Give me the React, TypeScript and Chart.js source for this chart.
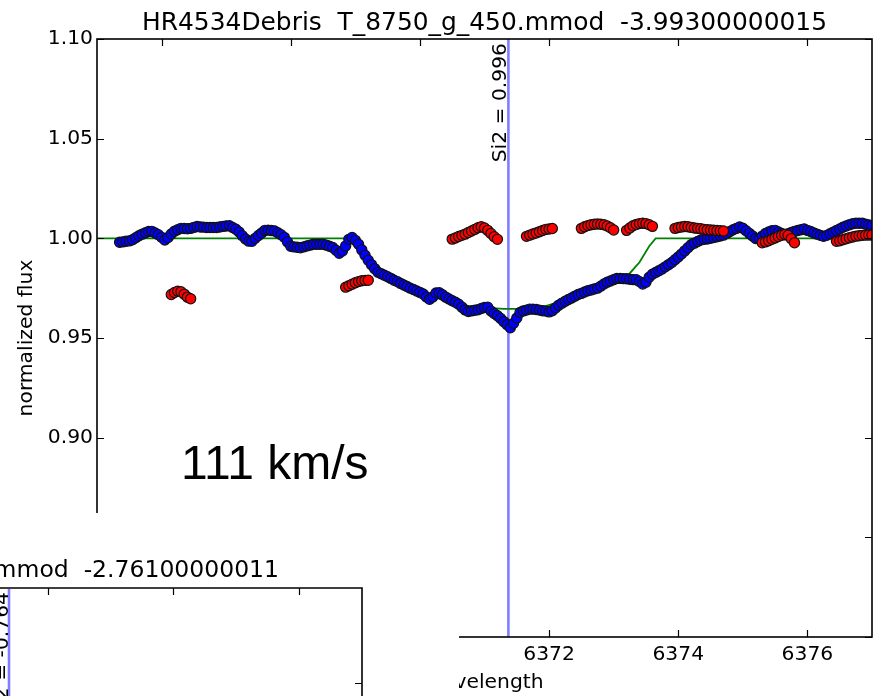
import React, { useEffect, useRef } from 'react';
import { Chart, registerables } from 'chart.js';

Chart.register(...registerables);

// ---------- text ----------
const TITLE = 'HR4534Debris  T_8750_g_450.mmod  -3.99300000015';
const INSET_TITLE = 'mmod  -2.76100000011';
const X_LABEL = 'wavelength';
const Y_LABEL = 'normalized flux';
const LINE_LABEL = 'Si2 = 0.996';
const INSET_LINE_LABEL = 'Si2 = -0.764';
const VEL_LABEL = '111 km/s';

// ---------- axes ----------
const X_MIN = 6365;
const X_MAX = 6377;
const Y_MIN = 0.8;
const Y_MAX = 1.1;
const X_TICKS = [6366, 6368, 6370, 6372, 6374, 6376];
const Y_TICKS = [0.8, 0.85, 0.9, 0.95, 1.0, 1.05, 1.1];

// Si II line position
const SI_WL = 6371.37;
// velocity label anchor (data coords, left/baseline)
const VEL_POS = { x: 6366.3, y: 0.8792 };

// ---------- observed spectrum (blue) ----------
const OBS_START = 6365.35;
const OBS_STEP = 0.05;
const OBS_FLUX = [
  0.998, 0.9982, 0.9985, 0.9987, 0.9993, 1.0003, 1.0013, 1.0021, 1.0028, 1.0034,
  1.0035, 1.0027, 1.0018, 1.0005, 0.9992, 1.0004, 1.0022, 1.0036, 1.0043, 1.005,
  1.0049, 1.0048, 1.005, 1.0055, 1.0059, 1.0057, 1.0056, 1.0054, 1.0054, 1.0054,
  1.0054, 1.0057, 1.006, 1.0062, 1.0063, 1.0054, 1.0046, 1.0032, 1.0013, 0.9997,
  0.9986, 0.9985, 1.0, 1.0014, 1.0027, 1.004, 1.0041, 1.0039, 1.0037, 1.0028,
  1.0018, 1.0005, 0.9982, 0.996, 0.9957, 0.9955, 0.9953, 0.9957, 0.9962, 0.9966,
  0.997, 0.997, 0.997, 0.997, 0.9966, 0.996, 0.9954, 0.994, 0.9925, 0.9936,
  0.9962, 0.9995, 1.0004, 0.999, 0.997, 0.9942, 0.9915, 0.989, 0.9868, 0.9848,
  0.983, 0.9822, 0.9815, 0.9807, 0.9799, 0.979, 0.9783, 0.9774, 0.9766, 0.9758,
  0.975, 0.9743, 0.9736, 0.9729, 0.9721, 0.9706, 0.9694, 0.9706, 0.9726, 0.9727,
  0.9717, 0.9705, 0.9696, 0.9687, 0.9679, 0.9669, 0.9655, 0.9641, 0.9633, 0.9636,
  0.9639, 0.9642, 0.9648, 0.9653, 0.9654, 0.9635, 0.9623, 0.9612, 0.9598, 0.9582,
  0.9567, 0.9551, 0.9574, 0.96, 0.9628, 0.9636, 0.964, 0.9645, 0.9645, 0.9643,
  0.964, 0.9637, 0.9635, 0.9631, 0.9637, 0.9651, 0.9665, 0.9675, 0.9684, 0.9693,
  0.9701, 0.971, 0.9718, 0.9724, 0.9731, 0.9737, 0.9741, 0.9746, 0.975, 0.976,
  0.9771, 0.978, 0.9786, 0.9793, 0.9799, 0.9799, 0.9798, 0.9797, 0.9795, 0.9793,
  0.9792, 0.9783, 0.9771, 0.978, 0.9805, 0.982, 0.9829, 0.9837, 0.9846, 0.9857,
  0.9868, 0.9879, 0.9893, 0.9906, 0.9921, 0.9937, 0.9953, 0.9968, 0.9976, 0.9984,
  0.9992, 0.9995, 0.9997, 1.0, 1.0004, 1.0008, 1.0012, 1.0016, 1.0025, 1.0034,
  1.0043, 1.005, 1.0057, 1.0051, 1.0038, 1.0025, 1.0012, 0.9999, 0.9998, 1.0011,
  1.0024, 1.0032, 1.0038, 1.004, 1.0032, 1.0024, 1.0018, 1.0023, 1.0029, 1.0035,
  1.0039, 1.0043, 1.0047, 1.004, 1.0034, 1.0027, 1.0021, 1.0015, 1.001, 1.0015,
  1.0023, 1.0031, 1.0039, 1.0047, 1.0056, 1.0062, 1.0068, 1.0073, 1.0076, 1.0076,
  1.0076, 1.0071, 1.0067, 1.0064,
];

// ---------- secondary spectrum (red), in segments ----------
const RED_STEP = 0.05;
const RED_STARTS = [6366.15, 6368.85, 6370.5, 6371.65, 6372.5, 6373.2, 6373.95, 6375.3, 6376.45];
const RED_A = [0.9718, 0.9728, 0.9735, 0.9732, 0.972, 0.9705, 0.9697];
const RED_B = [0.9755, 0.9762, 0.977, 0.9777, 0.9783, 0.9787, 0.9789, 0.979];
const RED_C = [0.9996, 1.0002, 1.0009, 1.0015, 1.0021, 1.0029, 1.0037, 1.0045, 1.0053, 1.0058, 1.0052, 1.004, 1.0024, 1.0008, 0.9995];
const RED_D = [1.001, 1.0016, 1.0022, 1.0027, 1.0033, 1.0039, 1.0045, 1.0047, 1.0049];
const RED_E = [1.005, 1.0058, 1.0064, 1.0068, 1.0071, 1.0072, 1.0071, 1.0068, 1.0062, 1.0053, 1.0042];
const RED_F = [1.004, 1.0052, 1.0063, 1.007, 1.0074, 1.0076, 1.0074, 1.0068, 1.006];
const RED_G = [1.005, 1.0054, 1.0057, 1.0059, 1.0058, 1.0055, 1.0052, 1.005, 1.0048, 1.0045, 1.0043, 1.0042, 1.0041, 1.0039, 1.0038, 1.0037];
const RED_H = [0.9978, 0.9982, 0.9988, 0.9995, 1.0002, 1.0009, 1.0015, 1.0019, 1.0015, 0.9998, 0.9978];
const RED_I = [0.9985, 0.9988, 0.9993, 0.9998, 1.0003, 1.0007, 1.0011, 1.0013, 1.0015, 1.0016, 1.0017, 1.0017];
const RED_SEGMENTS = [RED_A, RED_B, RED_C, RED_D, RED_E, RED_F, RED_G, RED_H, RED_I];

// ---------- model (green) ----------
const MODEL_WL = [6365.0, 6368.85, 6368.95, 6369.1, 6369.3, 6369.5, 6369.8, 6370.1, 6370.4, 6370.7, 6371.0, 6371.3, 6371.6, 6371.8, 6372.1, 6372.5, 6372.9, 6373.1, 6373.25, 6373.4, 6373.55, 6373.65, 6377.0];
const MODEL_FLUX = [1.0, 1.0, 0.9975, 0.9925, 0.9858, 0.9816, 0.9775, 0.9725, 0.9683, 0.9662, 0.9652, 0.9646, 0.9646, 0.9646, 0.9675, 0.9722, 0.9765, 0.979, 0.9825, 0.988, 0.996, 1.0, 1.0];

// ---------- colours / fonts ----------
const FONT = 'DejaVu Sans';
const BLUE = '#0000ff';
const RED = '#ff0000';
const GREEN = '#008000';
const LINE_BLUE = '#7f7fff';
const LABEL_SIZE = 20.3;

// overlapping second panel (cropped) in the lower-left corner, pixel layout
const INSET = {
  coverLeft: 0, coverTop: 513, coverRight: 459, coverBottom: 696,
  frameTop: 588, frameRight: 362, tickX: [48, 173, 299], tickY: [683],
  lineX: 9, titleRight: 279, titleBaseline: 577,
};

const TICK_LEN = 7;

const decorPlugin = {
  id: 'decor',
  afterDraw(chart: any) {
    const { ctx, chartArea: a, scales } = chart;
    const xs = scales.x;
    const ys = scales.y;
    ctx.save();
    // frame
    ctx.strokeStyle = '#000';
    ctx.lineWidth = 1.6;
    ctx.strokeRect(a.left, a.top, a.right - a.left, a.bottom - a.top);
    // inward ticks on all sides
    ctx.lineWidth = 1.2;
    ctx.beginPath();
    X_TICKS.forEach((v) => {
      const x = Math.round(xs.getPixelForValue(v)) + 0.5;
      ctx.moveTo(x, a.top); ctx.lineTo(x, a.top + TICK_LEN);
      ctx.moveTo(x, a.bottom); ctx.lineTo(x, a.bottom - TICK_LEN);
    });
    Y_TICKS.forEach((v) => {
      const y = Math.round(ys.getPixelForValue(v)) + 0.5;
      ctx.moveTo(a.left, y); ctx.lineTo(a.left + TICK_LEN, y);
      ctx.moveTo(a.right, y); ctx.lineTo(a.right - TICK_LEN, y);
    });
    ctx.stroke();

    // title centred over the axes
    ctx.fillStyle = '#000';
    ctx.font = `24.9px "${FONT}"`;
    ctx.textAlign = 'center';
    ctx.textBaseline = 'alphabetic';
    ctx.fillText(TITLE, (a.left + a.right) / 2, 30);

    // rotated line label
    const lx = xs.getPixelForValue(SI_WL);
    ctx.save();
    ctx.translate(lx - 2, a.top + 4);
    ctx.rotate(-Math.PI / 2);
    ctx.font = `${LABEL_SIZE}px "${FONT}"`;
    ctx.textAlign = 'right';
    ctx.textBaseline = 'alphabetic';
    ctx.fillText(LINE_LABEL, 0, 0);
    ctx.restore();

    // velocity label
    ctx.font = `48px "Liberation Sans"`;
    ctx.textAlign = 'left';
    ctx.textBaseline = 'alphabetic';
    ctx.fillText(VEL_LABEL, xs.getPixelForValue(VEL_POS.x), ys.getPixelForValue(VEL_POS.y));

    // overlapping second panel
    ctx.fillStyle = '#fff';
    ctx.fillRect(INSET.coverLeft, INSET.coverTop, INSET.coverRight - INSET.coverLeft, INSET.coverBottom - INSET.coverTop);
    ctx.fillStyle = '#000';
    ctx.font = `23.5px "${FONT}"`;
    ctx.textAlign = 'right';
    ctx.fillText(INSET_TITLE, INSET.titleRight, INSET.titleBaseline);
    ctx.strokeStyle = '#000';
    ctx.lineWidth = 1.6;
    ctx.beginPath();
    ctx.moveTo(INSET.coverLeft, INSET.frameTop);
    ctx.lineTo(INSET.frameRight, INSET.frameTop);
    ctx.lineTo(INSET.frameRight, INSET.coverBottom);
    ctx.stroke();
    ctx.lineWidth = 1.2;
    ctx.beginPath();
    INSET.tickX.forEach((x) => { ctx.moveTo(x + 0.5, INSET.frameTop); ctx.lineTo(x + 0.5, INSET.frameTop + TICK_LEN); });
    INSET.tickY.forEach((y) => { ctx.moveTo(INSET.frameRight, y + 0.5); ctx.lineTo(INSET.frameRight - TICK_LEN, y + 0.5); });
    ctx.stroke();
    ctx.strokeStyle = LINE_BLUE;
    ctx.lineWidth = 2.6;
    ctx.beginPath();
    ctx.moveTo(INSET.lineX, INSET.frameTop + 1);
    ctx.lineTo(INSET.lineX, INSET.coverBottom);
    ctx.stroke();
    ctx.save();
    ctx.translate(INSET.lineX - 1.5, INSET.frameTop + 4);
    ctx.rotate(-Math.PI / 2);
    ctx.fillStyle = '#000';
    ctx.font = `${LABEL_SIZE}px "${FONT}"`;
    ctx.textAlign = 'right';
    ctx.fillText(INSET_LINE_LABEL, 0, 0);
    ctx.restore();
    ctx.restore();
  },
};

export default function App() {
  const ref = useRef<HTMLCanvasElement>(null);
  useEffect(() => {
    const obs = OBS_FLUX.map((f, i) => ({ x: OBS_START + i * OBS_STEP, y: f }));
    const red: { x: number; y: number }[] = [];
    RED_SEGMENTS.forEach((seg, s) => {
      seg.forEach((f, i) => red.push({ x: RED_STARTS[s] + i * RED_STEP, y: f }));
    });
    const model = MODEL_WL.map((w, i) => ({ x: w, y: MODEL_FLUX[i] }));
    const siLine = [{ x: SI_WL, y: Y_MIN }, { x: SI_WL, y: Y_MAX }];

    const tickFont = { family: FONT, size: LABEL_SIZE };
    const chart = new Chart(ref.current!, {
      type: 'scatter',
      data: {
        datasets: [
          { data: red, order: 1, pointRadius: 5.1, pointBackgroundColor: RED, pointBorderColor: '#111', pointBorderWidth: 1.2, showLine: false, clip: 0 } as any,
          { data: obs, order: 2, pointRadius: 5.1, pointBackgroundColor: BLUE, pointBorderColor: '#111', pointBorderWidth: 1.2, showLine: false, clip: 0 } as any,
          { data: model, order: 3, pointRadius: 0, showLine: true, borderColor: GREEN, borderWidth: 1.8, tension: 0, clip: 0 } as any,
          { data: siLine, order: 4, pointRadius: 0, showLine: true, borderColor: LINE_BLUE, borderWidth: 2.6, clip: 0 } as any,
        ],
      },
      options: {
        responsive: false,
        animation: false,
        devicePixelRatio: 1,
        events: [],
        layout: { padding: { top: 39, right: 10, left: 0, bottom: 0 } },
        plugins: { legend: { display: false }, tooltip: { enabled: false }, title: { display: false } },
        scales: {
          x: {
            type: 'linear',
            position: 'bottom',
            min: X_MIN,
            max: X_MAX,
            grid: { display: false, drawTicks: false },
            border: { display: false },
            afterBuildTicks: (s: any) => { s.ticks = X_TICKS.map((v) => ({ value: v })); },
            ticks: { font: tickFont, color: '#000', padding: 5.3, maxRotation: 0, autoSkip: false, callback: (v: any) => String(v) },
            title: { display: true, text: X_LABEL, font: tickFont, color: '#000', padding: { top: 0, bottom: 0.8 } },
            afterFit: (s: any) => { s.height = 59; s.paddingLeft = 0; s.paddingRight = 0; },
          },
          y: {
            type: 'linear',
            min: Y_MIN,
            max: Y_MAX,
            grid: { display: false, drawTicks: false },
            border: { display: false },
            afterBuildTicks: (s: any) => { s.ticks = Y_TICKS.map((v) => ({ value: v })); },
            ticks: { font: tickFont, color: '#000', padding: 4, autoSkip: false, callback: (v: any) => Number(v).toFixed(2) },
            title: { display: true, text: Y_LABEL, font: tickFont, color: '#000', padding: { top: 14.8, bottom: 0 } },
            afterFit: (s: any) => { s.width = 97; s.paddingTop = 0; s.paddingBottom = 0; },
          },
        },
      } as any,
      plugins: [decorPlugin],
    });
    return () => chart.destroy();
  }, []);

  return (
    <div style={{ position: 'absolute', left: 0, top: 0, width: 882, height: 696, background: '#fff' }}>
      <canvas ref={ref} width={882} height={696} style={{ display: 'block', width: 882, height: 696 }} />
    </div>
  );
}
